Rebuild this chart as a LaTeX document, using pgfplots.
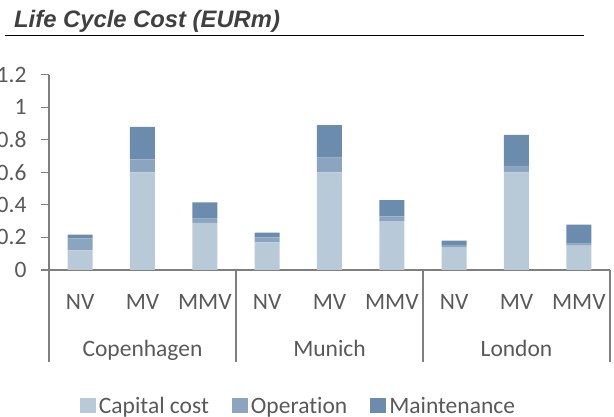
\documentclass[border=0pt]{standalone}
\usepackage{pgfplots}
\usepackage{pgfplotstable}
\pgfplotsset{compat=1.18}
\usepackage{fontspec}
\setmainfont{Carlito}[Ligatures=NoCommon]
\newfontfamily\titlefont{Liberation Sans}
\definecolor{capc}{HTML}{B8C9D8}
\definecolor{opc}{HTML}{8BA4BF}
\definecolor{mtc}{HTML}{6B8CAD}
\definecolor{txt}{HTML}{595959}
\definecolor{ttl}{HTML}{404040}
\definecolor{axc}{HTML}{7F7F7F}
\pgfplotstableread{
x cap op mt
0 0.12 0.075 0.022
1 0.60 0.08 0.20
2 0.29 0.025 0.10
3 0.17 0.03 0.03
4 0.60 0.09 0.20
5 0.30 0.03 0.10
6 0.14 0.015 0.025
7 0.60 0.04 0.19
8 0.15 0.012 0.117
}\data
\begin{document}
\begin{tikzpicture}[x=1pt,y=1pt]
\path[use as bounding box] (0,0) rectangle (614,417);
\node[anchor=base west, font=\titlefont\bfseries\itshape\fontsize{23.8}{27}\selectfont, text=ttl, inner sep=0pt] at (14,389.7) {Life Cycle Cost (EURm)};
\draw[black, line width=1.1pt] (5,381.3) -- (584,381.3);
\begin{axis}[
  at={(49pt,147pt)}, anchor=south west,
  scale only axis, width=561pt, height=195.3pt,
  xmin=-0.5, xmax=8.5, ymin=0, ymax=1.2,
  ybar stacked, bar width=25pt,
  axis x line*=bottom, axis y line*=left,
  axis line style={axc, line width=1.2pt, -},
  tick align=outside,
  ytick={0,0.2,0.4,0.6,0.8,1,1.2},
  yticklabels={0,0.2,0.4,0.6,0.8,1,1.2},
  major y tick style={axc, line width=1.2pt},
  major tick length=8pt,
  xtick={0,1,2,3,4,5,6,7,8},
  xticklabels={NV,MV,MMV,NV,MV,MMV,NV,MV,MMV},
  major x tick style={draw=none},
  ticklabel style={font=\fontsize{23.5}{27}\selectfont, text=txt},
  yticklabel style={anchor=east, xshift=-11pt},
  xticklabel style={anchor=base, yshift=-32pt},
  clip=false,
  legend columns=3,
  legend style={draw=none, fill=none, at={(axis description cs:0.4456,-0.696)}, anchor=center,
    font=\fontsize{23.5}{27}\selectfont, text=txt,
    /tikz/every even column/.append style={column sep=20pt},
    nodes={inner xsep=3pt}},
  legend image code/.code={\fill[#1] (0pt,-7pt) rectangle (16pt,7.5pt);},
]
\addplot[fill=capc, draw=none] table[x=x, y=cap] {\data};
\addplot[fill=opc, draw=none] table[x=x, y=op] {\data};
\addplot[fill=mtc, draw=none] table[x=x, y=mt] {\data};
\legend{Capital cost, Operation, Maintenance}
\draw[axc, line width=1.2pt] (axis cs:-0.5,0) -- ([yshift=-92pt]axis cs:-0.5,0);
\draw[axc, line width=1.2pt] (axis cs:2.5,0) -- ([yshift=-92pt]axis cs:2.5,0);
\draw[axc, line width=1.2pt] (axis cs:5.5,0) -- ([yshift=-92pt]axis cs:5.5,0);
\draw[axc, line width=1.2pt] (axis cs:8.5,0) -- ([yshift=-92pt]axis cs:8.5,0);
\node[anchor=base, font=\fontsize{23.5}{27}\selectfont, text=txt] at ([yshift=-87pt]axis cs:1,0) {Copenhagen};
\node[anchor=base, font=\fontsize{23.5}{27}\selectfont, text=txt] at ([yshift=-87pt]axis cs:4,0) {Munich};
\node[anchor=base, font=\fontsize{23.5}{27}\selectfont, text=txt] at ([yshift=-87pt]axis cs:7,0) {London};
\end{axis}
\end{tikzpicture}
\end{document}
